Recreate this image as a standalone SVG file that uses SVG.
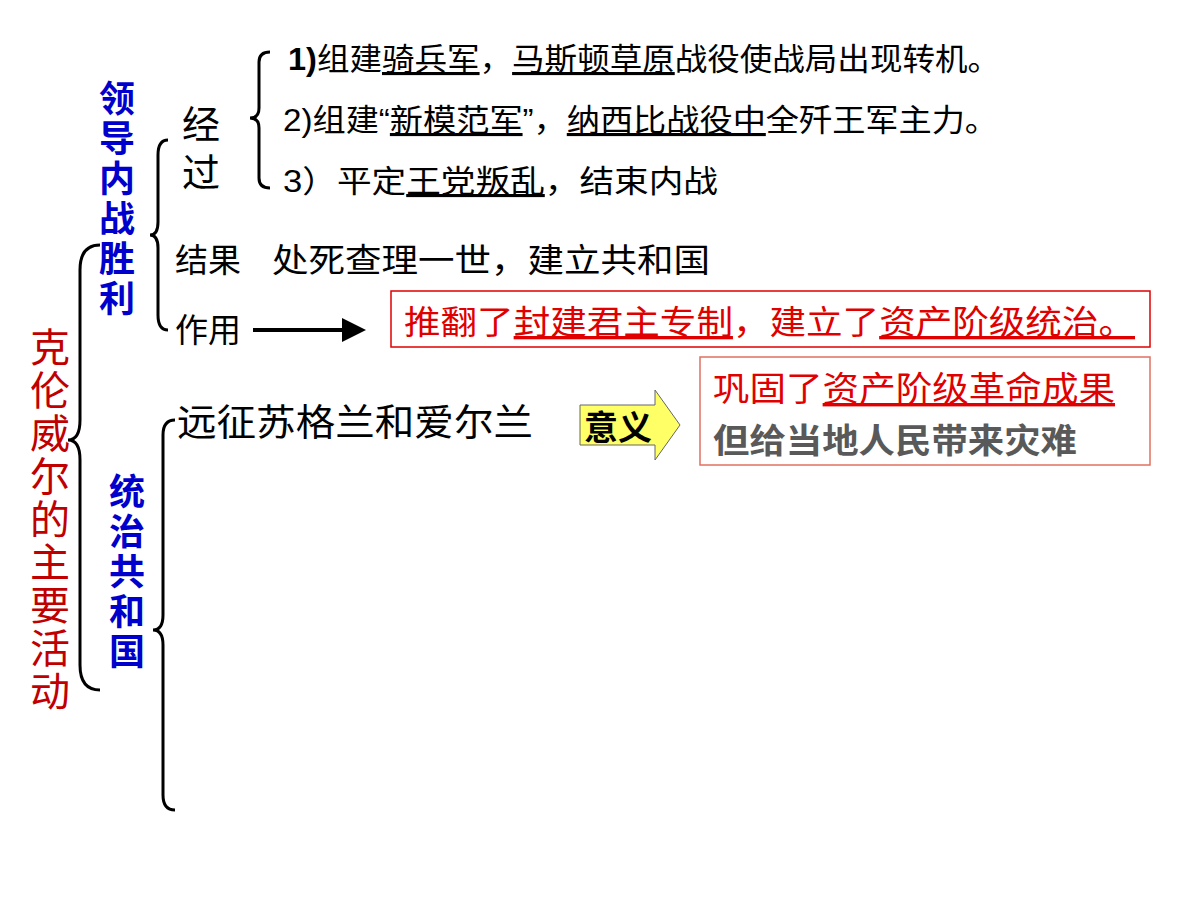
<svg xmlns="http://www.w3.org/2000/svg" width="1200" height="900" viewBox="0 0 1200 900">
<style>
text{font-family:"Liberation Sans","Noto Sans CJK SC",sans-serif}
.k{font-size:30px;fill:#000}
.u{text-decoration:underline}
.br{fill:none;stroke:#000;stroke-width:3}
.v{font-weight:bold;font-size:36px;fill:#0000cc;text-anchor:middle}
.r{font-size:40px;fill:#c00000;text-anchor:middle}
</style>
<defs><marker id="ah" markerWidth="6" markerHeight="6" refX="5" refY="3" orient="auto"><path d="M0,0L6,3L0,6z" fill="#000"/></marker></defs>
<rect width="1200" height="900" fill="#fff"/>
<g id="connectors">
<path class="br" d="M100,245 Q80,245 80,270 L80,420 Q80,440 68,440 Q80,440 80,460 L80,665 Q80,690 100,690"/>
<path class="br" d="M168,140 Q158,140 158,155 L158,222 Q158,235 150,235 Q158,235 158,248 L158,315 Q158,330 168,330"/>
<path class="br" d="M175,420 Q163,420 163,435 L163,615 Q163,630 153,630 Q163,630 163,645 L163,795 Q163,810 175,810"/>
<path class="br" d="M270,52 Q259,52 259,62 L259,108 Q259,118 250,118 Q259,118 259,128 L259,178 Q259,188 270,188"/>
<line x1="253" y1="330" x2="362" y2="330" stroke="#000" stroke-width="4" marker-end="url(#ah)"/>
</g>
<g id="title"><text class="r"><tspan x="50" y="362">克</tspan><tspan x="50" y="405">伦</tspan><tspan x="50" y="448">威</tspan><tspan x="50" y="491">尔</tspan><tspan x="50" y="534">的</tspan><tspan x="50" y="577">主</tspan><tspan x="50" y="620">要</tspan><tspan x="50" y="663">活</tspan><tspan x="50" y="706">动</tspan></text></g>
<g id="lead"><text class="v"><tspan x="117" y="112">领</tspan><tspan x="117" y="152">导</tspan><tspan x="117" y="192">内</tspan><tspan x="117" y="232">战</tspan><tspan x="117" y="272">胜</tspan><tspan x="117" y="312">利</tspan></text></g>
<g id="rule"><text class="v"><tspan x="127" y="505">统</tspan><tspan x="127" y="545">治</tspan><tspan x="127" y="585">共</tspan><tspan x="127" y="625">和</tspan><tspan x="127" y="665">国</tspan></text></g>
<g id="process"><text class="k" style="font-size:38px"><tspan x="182" y="138">经</tspan><tspan x="182" y="186">过</tspan></text></g>
<g id="step1"><text class="k" x="288" y="70" style="font-size:31px" textLength="712" lengthAdjust="spacingAndGlyphs"><tspan font-weight="bold">1)</tspan>组建<tspan class="u">骑兵军</tspan>，<tspan class="u">马斯顿草原</tspan>战役使战局出现转机。</text></g>
<g id="step2"><text class="k" x="283" y="131" style="font-size:31px" textLength="715" lengthAdjust="spacingAndGlyphs">2)组建“<tspan class="u">新模范军</tspan>”，<tspan class="u">纳西比战役中</tspan>全歼王军主力。</text></g>
<g id="step3"><text class="k" x="283" y="192" style="font-size:31px" textLength="435" lengthAdjust="spacingAndGlyphs">3）平定<tspan class="u">王党叛乱</tspan>，结束内战</text></g>
<g id="result"><text class="k" x="175" y="272" style="font-size:33px">结果</text><text class="k" x="272" y="272" style="font-size:33px" textLength="438" lengthAdjust="spacingAndGlyphs">处死查理一世，建立共和国</text></g>
<g id="effect"><text class="k" x="175" y="342" style="font-size:33px">作用</text></g>
<g id="effectbox"><rect x="391" y="291" width="759" height="56" fill="#fff" stroke="#e00000" stroke-width="1.5"/>
<text x="404" y="334" style="font-size:33px;fill:#e00000" textLength="731" lengthAdjust="spacingAndGlyphs">推翻了<tspan class="u">封建君主专制</tspan>，建立了<tspan class="u">资产阶级统治。</tspan></text></g>
<g id="expedition"><text class="k" x="177" y="436" style="font-size:37px" textLength="356" lengthAdjust="spacingAndGlyphs">远征苏格兰和爱尔兰</text></g>
<g id="meaning"><path d="M580,405 H655 V390 L680,425 L655,460 V445 H580 Z" fill="#ffff66" stroke="#666" stroke-width="1"/>
<text x="584" y="440" style="font-size:34px;font-weight:bold;fill:#000">意义</text></g>
<g id="meaningbox"><rect x="700" y="357" width="450" height="108" fill="#fff" stroke="#e07060" stroke-width="1.5"/>
<text x="713" y="401" style="font-size:34px;fill:#e00000" textLength="402" lengthAdjust="spacingAndGlyphs">巩固了<tspan class="u">资产阶级革命成果</tspan></text>
<text x="713" y="453" style="font-size:34px;font-weight:bold;fill:#595959" textLength="364" lengthAdjust="spacingAndGlyphs">但给当地人民带来灾难</text></g>
</svg>
